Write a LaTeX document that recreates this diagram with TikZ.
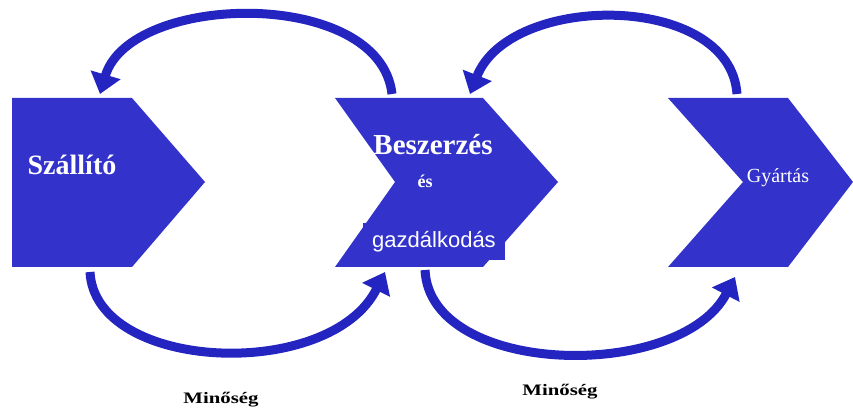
\documentclass[tikz,border=0pt]{standalone}
\usepackage{fontspec}
\setmainfont{Liberation Serif}
\setsansfont{Liberation Sans}
\usetikzlibrary{arrows.meta}
\definecolor{chev}{RGB}{51,51,204}
\definecolor{arrowblue}{RGB}{36,36,192}
\tikzset{
  chevron/.style={fill=chev, draw=none},
  loop/.style={draw=arrowblue, line width=9pt,
    -{Triangle[length=20pt,width=30pt]}},
  lbl/.style={text=white, inner sep=0pt},
  qual/.style={text=black, inner sep=0pt, font=\bfseries\fontsize{16}{18}\selectfont}
}
\begin{document}
\begin{tikzpicture}[x=1pt,y=1pt]
\useasboundingbox (0,0) rectangle (853,412);
% chevrons
\fill[chevron] (12,314) -- (132,314) -- (205,230) -- (132,145) -- (12,145) -- cycle;
\fill[chevron] (335,314) -- (483,314) -- (558,230) -- (483,145) -- (335,145) -- (395,230) -- cycle;
\fill[chevron] (668,314) -- (788,314) -- (853,230) -- (788,145) -- (668,145) -- (743,230) -- cycle;
% labels
\node[lbl, font=\bfseries\fontsize{28}{30}\selectfont] (szall) at (72,247) {Szállító};
\node[lbl, font=\bfseries\fontsize{29}{31}\selectfont] (besz) at (433,267) {Beszerzés};
\node[lbl, font=\bfseries\fontsize{18}{20}\selectfont] (es) at (425,231) {és};
\node[lbl, fill=chev, minimum width=142pt, minimum height=37pt, font=\sffamily\fontsize{22}{24}\selectfont] (gazd) at (434,170) {gazdálkodás};
\node[lbl, font=\fontsize{20}{22}\selectfont] (gyar) at (778,234) {Gyártás};
\node[qual] (min1) at (221,12) {\scalebox{1.3}[1]{Minőség}};
\node[qual] (min2) at (560,20) {\scalebox{1.3}[1]{Minőség}};
% loop arrow end points
\coordinate (t1s) at (392,318);
\coordinate (t1e) at (100,318);
\coordinate (t2s) at (737,318);
\coordinate (t2e) at (470,318);
\coordinate (b1s) at (90,140);
\coordinate (b1e) at (385,140);
\coordinate (b2s) at (425,142);
\coordinate (b2e) at (735,135);
% loops
\draw[loop] (t1s) .. controls (380,425) and (130,420) .. (t1e);
\draw[loop] (t2s) .. controls (730,420) and (510,420) .. (t2e);
\draw[loop] (b1s) .. controls (95,40) and (330,30) .. (b1e);
\draw[loop] (b2s) .. controls (430,35) and (680,30) .. (b2e);
\end{tikzpicture}
\end{document}
